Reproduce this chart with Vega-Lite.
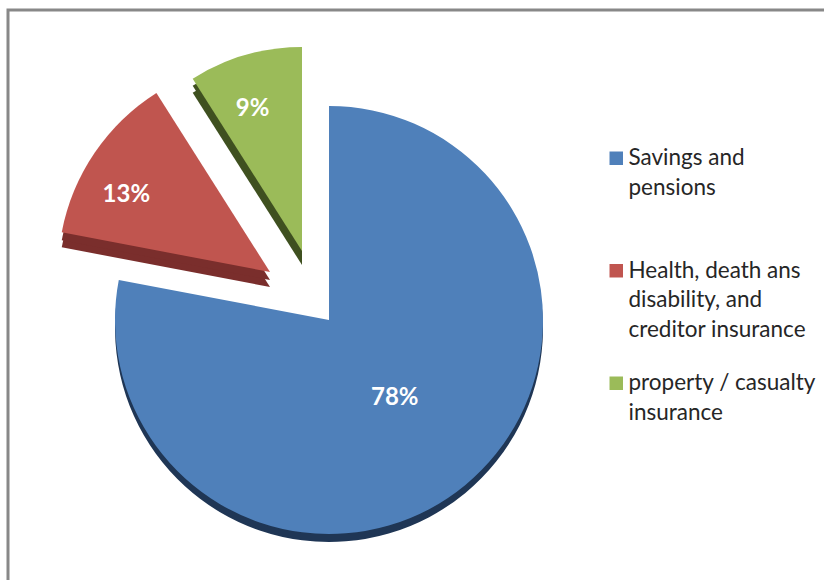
{"$schema":"https://vega.github.io/schema/vega-lite/v6.json","width":830,"height":590,"autosize":"none","padding":{"left":8,"top":10,"right":0,"bottom":0},"background":"white","view":{"stroke":"#888888","strokeWidth":3,"fill":"white"},
"datasets":{"d":[{"name":"Savings and pensions","order":1,"share":78,"label":"78%"},{"name":"Health, death ans disability, and creditor insurance","order":2,"share":13,"label":"13%"},{"name":"property / casualty insurance","order":3,"share":9,"label":"9%"}]},
"data":{"name":"d"},
"transform":[{"stack":"share","sort":[{"field":"order"}],"as":["p0","p1"]},{"calculate":"(datum.p0+datum.p1)/2","as":"mid"}],
"resolve":{"scale":{"theta":"shared","color":"shared"}},
"encoding":{"theta":{"field":"p0","type":"quantitative","scale":{"domain":[0,100],"range":[0,6.283185307]}},"theta2":{"field":"p1"}},
"layer":[
{"mark":{"type":"arc","radius":214,"xOffset":-94,"yOffset":23,"fill":"#1f3655"},"transform":[{"filter":"datum.order==1"}]},
{"mark":{"type":"arc","radius":214,"xOffset":-94,"yOffset":15},"transform":[{"filter":"datum.order==1"}],"encoding":{"color":{"field":"name","type":"nominal","sort":null,"scale":{"domain":["Savings and pensions","Health, death ans disability, and creditor insurance","property / casualty insurance"],"range":["#4f80ba","#c0554f","#9bbb59"]},"legend":{"orient":"none","legendX":597,"legendY":137,"title":null,"symbolType":"square","symbolSize":182,"symbolStrokeWidth":0,"rowPadding":30.5,"labelOffset":1,"labelFont":"Lato","labelFontSize":22.5,"labelColor":"#262626","labelLimit":300,"encode":{"labels":{"update":{"lineHeight":{"value":29.5}}}},"labelExpr":"datum.label=='Savings and pensions'?['Savings and','pensions','']:datum.label[0]=='H'?['Health, death ans','disability, and','creditor insurance']:['property / casualty','insurance']"}}}},
{"mark":{"type":"arc","radius":212,"xOffset":-153,"yOffset":-18,"fill":"#7a2e2c"},"transform":[{"filter":"datum.order==2"}]},
{"mark":{"type":"arc","radius":212,"xOffset":-153,"yOffset":-25,"fill":"#7a2e2c"},"transform":[{"filter":"datum.order==2"}]},
{"mark":{"type":"arc","radius":212,"xOffset":-153,"yOffset":-33},"transform":[{"filter":"datum.order==2"}],"encoding":{"color":{"field":"name","type":"nominal","sort":null}}},
{"mark":{"type":"arc","radius":204,"xOffset":-121,"yOffset":-40,"fill":"#3f5020"},"transform":[{"filter":"datum.order==3"}]},
{"mark":{"type":"arc","radius":204,"xOffset":-121,"yOffset":-47,"fill":"#3f5020"},"transform":[{"filter":"datum.order==3"}]},
{"mark":{"type":"arc","radius":204,"xOffset":-121,"yOffset":-54},"transform":[{"filter":"datum.order==3"}],"encoding":{"color":{"field":"name","type":"nominal","sort":null}}},
{"mark":{"type":"text","radius":100,"xOffset":-92,"yOffset":16,"font":"Lato","fontWeight":"bold","fontSize":24,"fill":"white"},"transform":[{"filter":"datum.order==1"}],"encoding":{"theta":{"field":"mid","type":"quantitative"},"theta2":null,"text":{"field":"label"}}},
{"mark":{"type":"text","radius":164,"xOffset":-161,"yOffset":-18,"font":"Lato","fontWeight":"bold","fontSize":24,"fill":"white"},"transform":[{"filter":"datum.order==2"}],"encoding":{"theta":{"field":"mid","type":"quantitative"},"theta2":null,"text":{"field":"label"}}},
{"mark":{"type":"text","radius":152,"xOffset":-128,"yOffset":-50,"font":"Lato","fontWeight":"bold","fontSize":24,"fill":"white"},"transform":[{"filter":"datum.order==3"}],"encoding":{"theta":{"field":"mid","type":"quantitative"},"theta2":null,"text":{"field":"label"}}}
]}
